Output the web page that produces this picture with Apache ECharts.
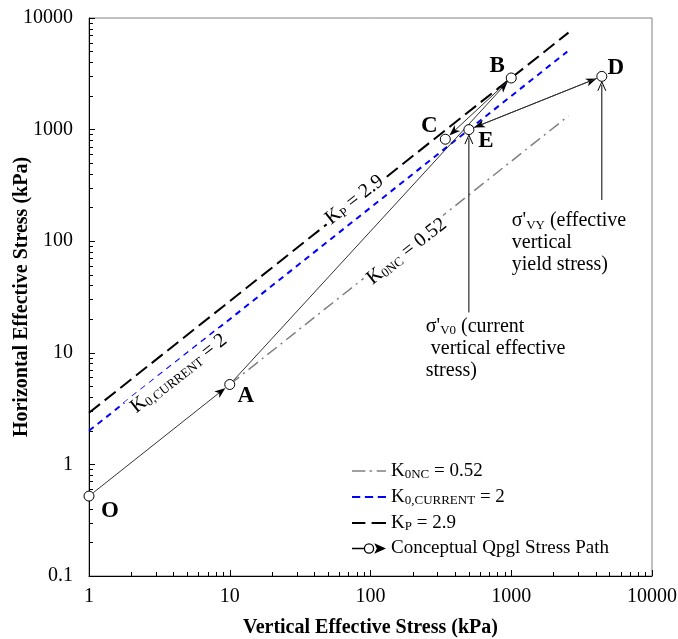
<!DOCTYPE html>
<html>
<head>
<meta charset="utf-8" />
<title>Conceptual Qpgl Stress Path</title>
<script src="https://cdn.jsdelivr.net/npm/echarts@6.0.0/dist/echarts.min.js"></script>
<style>
    html, body { margin: 0; padding: 0; background: #fff; }
    #chart { width: 678px; height: 639px; }
</style>
</head>
<body>
<div id="chart"></div>
<script>
    // axis ticks
    const xTicks = [1, 10, 100, 1000, 10000];
    const yTicks = [0.1, 1, 10, 100, 1000, 10000];

    // K lines (vertical stress, horizontal stress)
    const k0ncLine = [[10, 5.2], [2550, 1326]];
    const k0CurrentLine = [[1, 2], [2500, 5000]];
    const kpLine = [[1, 2.9], [2550, 7395]];

    // stress path points
    const pointNames = ['O', 'A', 'B', 'C', 'E', 'D'];
    const pointX = [1, 10, 1000, 340, 500, 4400];
    const pointY = [0.52, 5.2, 2900, 820, 1000, 3000];
    const pathSegments = [['O', 'A'], ['A', 'B'], ['B', 'C'], ['E', 'D'], ['D', 'E']];

    // annotation arrows: [x, y at text, target point]
    const noteArrows = [[500, 23, 'E'], [4400, 234, 'D']];

    // rotated line labels, anchored at data coords
    const lineLabels = [
        ['{n|K}{s|P}{n| = 2.9}', 77, 234],
        ['{n|K}{s|0NC}{n| = 0.52}', 181, 81],
        ['{n|K}{s|0,CURRENT}{n| = 2}', 4.35, 6.5]
    ];
    // text notes, anchored at top-left
    const notes = [
        ["σ'{s|V0} (current\n vertical effective\nstress)", 247, 21.4],
        ["σ'{s|VY} (effective\nvertical\nyield stress)", 1009, 190]
    ];

    const names = {
        k0nc: 'K0NC = 0.52',
        cur: 'K0,CURRENT = 2',
        kp: 'KP = 2.9',
        path: 'Conceptual Qpgl Stress Path'
    };
    const legendText = {
        'K0NC = 0.52': '{n|K}{s|0NC}{n| = 0.52}',
        'K0,CURRENT = 2': '{n|K}{s|0,CURRENT}{n| = 2}',
        'KP = 2.9': '{n|K}{s|P}{n| = 2.9}',
        'Conceptual Qpgl Stress Path': '{n|Conceptual Qpgl Stress Path}'
    };

    const serif = 'Liberation Serif';
    const legendRich = {
        n: { fontFamily: serif, fontSize: 19, color: '#000', lineHeight: 20 },
        s: { fontFamily: serif, fontSize: 13, color: '#000', lineHeight: 20, padding: [7, 0, 0, 0] }
    };
    const labelRich = {
        n: { fontFamily: serif, fontSize: 20, color: '#000', lineHeight: 22 },
        s: { fontFamily: serif, fontSize: 13, color: '#000', lineHeight: 22, padding: [8, 0, 0, 0] }
    };
    const labelOffsets = [[21, 15], [16, 12], [-14, -12], [-16, -13], [17, 11], [14, -8]];
    const markerR = 5.5;

    const pt = name => {
        const i = pointNames.indexOf(name);
        return [pointX[i], pointY[i]];
    };

    function arrowHead(tip, ux, uy, filled) {
        const L = filled ? 11 : 9, w = 4, notch = 3;
        const nx = -uy, ny = ux;
        const b1 = [tip[0] - ux * L + nx * w, tip[1] - uy * L + ny * w];
        const b2 = [tip[0] - ux * L - nx * w, tip[1] - uy * L - ny * w];
        if (filled) {
            const mid = [tip[0] - ux * (L - notch), tip[1] - uy * (L - notch)];
            return { type: 'polygon', shape: { points: [tip, b1, mid, b2] }, style: { fill: '#000' } };
        }
        return { type: 'polyline', shape: { points: [b1, tip, b2] }, style: { stroke: '#000', lineWidth: 1, fill: null } };
    }

    function renderArrow(params, api, filled, trimStart) {
        const p1 = api.coord([api.value(0), api.value(1)]);
        const p2 = api.coord([api.value(2), api.value(3)]);
        const dx = p2[0] - p1[0], dy = p2[1] - p1[1];
        const len = Math.hypot(dx, dy);
        const ux = dx / len, uy = dy / len;
        const s = trimStart ? [p1[0] + ux * markerR, p1[1] + uy * markerR] : p1;
        const tip = [p2[0] - ux * markerR, p2[1] - uy * markerR];
        return {
            type: 'group',
            children: [
                { type: 'line', shape: { x1: s[0], y1: s[1], x2: tip[0] - ux * 3, y2: tip[1] - uy * 3 },
                  style: { stroke: filled ? '#333' : '#000', lineWidth: 1 } },
                arrowHead(tip, ux, uy, filled)
            ]
        };
    }

    const chart = echarts.init(document.getElementById('chart'));

    const option = {
        animation: false,
        backgroundColor: '#fff',
        grid: {
            left: 89, right: 26, top: 18, bottom: 63, outerBoundsMode: 'none', containLabel: false,
            show: true, borderColor: '#808080', borderWidth: 1
        },
        xAxis: {
            type: 'log', logBase: 10, min: xTicks[0], max: xTicks[xTicks.length - 1],
            name: 'Vertical Effective Stress (kPa)', nameLocation: 'middle', nameGap: 42, nameMoveOverlap: false,
            nameTextStyle: { fontFamily: serif, fontSize: 20, fontWeight: 'bold', color: '#000' },
            axisLine: { lineStyle: { color: '#000', width: 1 } },
            axisTick: { inside: true, length: 6, lineStyle: { color: '#000' } },
            minorTick: { show: true, splitNumber: 9, length: 4, lineStyle: { color: '#000' } },
            splitLine: { show: false },
            axisLabel: { fontFamily: serif, fontSize: 20, color: '#000', margin: 11,
                formatter: v => String(+v.toPrecision(6)) }
        },
        yAxis: {
            type: 'log', logBase: 10, min: yTicks[0], max: yTicks[yTicks.length - 1],
            name: 'Horizontal Effective Stress (kPa)', nameLocation: 'middle', nameGap: 57, nameMoveOverlap: false,
            nameTextStyle: { fontFamily: serif, fontSize: 20, fontWeight: 'bold', color: '#000' },
            axisLine: { lineStyle: { color: '#000', width: 1 } },
            axisTick: { inside: true, length: 6, lineStyle: { color: '#000' } },
            minorTick: { show: true, splitNumber: 9, length: 4, lineStyle: { color: '#000' } },
            splitLine: { show: false },
            axisLabel: { fontFamily: serif, fontSize: 20, color: '#000', margin: 16,
                formatter: v => String(+v.toPrecision(6)) }
        },
        legend: {
            orient: 'vertical', left: 347, top: 456, itemGap: 6, itemWidth: 34, itemHeight: 12,
            data: [
                { name: names.k0nc, icon: 'path://M0,0h13v1.6h-13Z M17,0h2.5v1.6h-2.5Z M24,0h9v1.6h-9Z' },
                { name: names.cur, icon: 'path://M0,0h8v1.8h-8Z M12.5,0h8v1.8h-8Z M25,0h8v1.8h-8Z' },
                { name: names.kp, icon: 'path://M0,0h13v2h-13Z M19,0h14v2h-14Z' },
                { name: names.path,
                  icon: 'path://M0,4.5L9,4.5L9,5.5L0,5.5Z M9,5A4,4,0,1,1,17,5A4,4,0,1,1,9,5Z M10,5A3,3,0,1,0,16,5A3,3,0,1,0,10,5Z M17,1L26,5L17,9L19,5Z',
                  itemStyle: { color: '#000', borderWidth: 0 } }
            ],
            formatter: name => legendText[name],
            textStyle: { fontFamily: serif, fontSize: 19, color: '#000', rich: legendRich }
        },
        series: [
            {
                name: names.k0nc, type: 'line', data: k0ncLine, symbol: 'none', z: 2,
                lineStyle: { color: '#808080', width: 1.5, type: [12, 5, 2, 5] }, itemStyle: { color: '#808080' }
            },
            {
                name: names.cur, type: 'line', data: k0CurrentLine, symbol: 'none', z: 2,
                lineStyle: { color: '#0000ff', width: 2, type: [6, 5] }, itemStyle: { color: '#0000ff' }
            },
            {
                name: names.kp, type: 'line', data: kpLine, symbol: 'none', z: 2,
                lineStyle: { color: '#000', width: 2, type: [14, 6] }, itemStyle: { color: '#000' }
            },
            {
                type: 'custom', z: 3, silent: true,
                data: pathSegments.map(([a, b]) => [...pt(a), ...pt(b)]),
                renderItem: (params, api) => renderArrow(params, api, true, true)
            },
            {
                type: 'custom', z: 3, silent: true,
                data: noteArrows.map(([x, y, p]) => [x, y, ...pt(p)]),
                renderItem: (params, api) => renderArrow(params, api, false, false)
            },
            {
                type: 'scatter', z: 6, silent: true, symbolSize: 0, itemStyle: { opacity: 1 },
                data: lineLabels.map(([t, x, y]) => ({ value: [x, y], label: { formatter: t } })),
                label: {
                    show: true, position: 'inside', rotate: 38, align: 'center', verticalAlign: 'middle',
                    backgroundColor: '#fff', padding: [0, 3], rich: labelRich
                }
            },
            {
                type: 'scatter', z: 6, silent: true, symbolSize: 0, itemStyle: { opacity: 1 },
                data: notes.map(([t, x, y]) => ({ value: [x, y], label: { formatter: t } })),
                label: {
                    show: true, position: 'inside', align: 'left', verticalAlign: 'top',
                    fontFamily: serif, fontSize: 20, color: '#000', lineHeight: 22,
                    rich: { s: labelRich.s }
                }
            },
            {
                name: names.path, type: 'scatter', z: 5, silent: true,
                symbol: 'circle', symbolSize: 10,
                itemStyle: { color: '#fff', borderColor: '#000', borderWidth: 1, opacity: 1 },
                data: pointNames.map((n, i) => ({
                    name: n, value: [pointX[i], pointY[i]],
                    label: { offset: labelOffsets[i] }
                })),
                label: {
                    show: true, position: 'inside', formatter: '{b}',
                    fontFamily: serif, fontSize: 23, fontWeight: 'bold', color: '#000'
                }
            }
        ]
    };

    chart.setOption(option);
    window.onresize = () => chart.resize();
</script>
</body>
</html>
